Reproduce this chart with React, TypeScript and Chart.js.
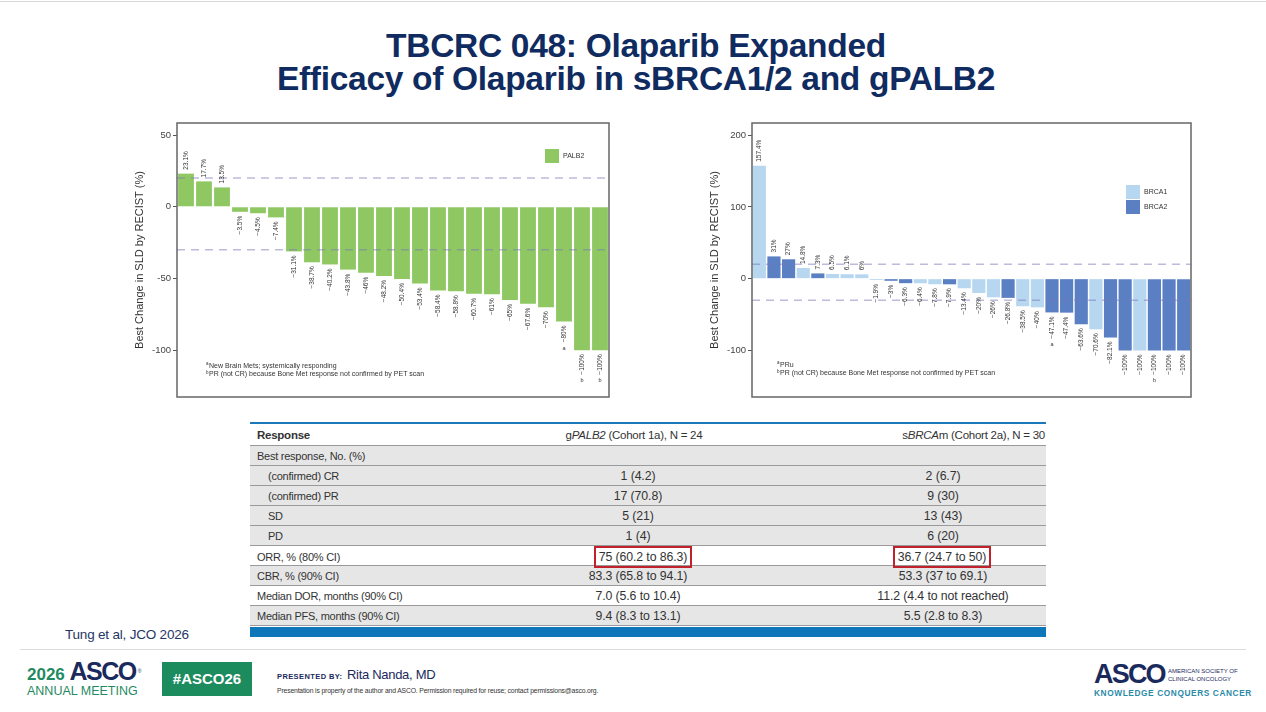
import React, { useEffect, useRef } from "react";
import { Chart, registerables } from "chart.js";

Chart.register(...registerables);

// gPALB2 cohort: best change in SLD (%) per patient
const palb2Values = [
  23.1, 17.7, 13.5, -3.5, -4.5, -7.4, -31.1, -38.7, -40.2, -43.8, -46, -48.2,
  -50.4, -53.4, -58.4, -58.8, -60.7, -61, -65, -67.6, -70, -80, -100, -100,
];
const palb2Marks = ["", "", "", "", "", "", "", "", "", "", "", "", "", "", "", "", "", "", "", "", "", "a", "b", "b"];

// sBRCA cohort: best change in SLD (%) per patient and gene
const brcaValues = [
  157.4, 31, 27, 14.8, 7.3, 6.5, 6.1, 6, -1.9, -3, -6.3, -6.4, -7.8, -7.9, -13.4,
  -20, -26, -26.8, -38.5, -40, -47.1, -47.4, -63.6, -70.6, -82.1, -100, -100,
  -100, -100, -100,
];
const brcaGenes = [
  "BRCA1", "BRCA2", "BRCA2", "BRCA1", "BRCA2", "BRCA1", "BRCA1", "BRCA1", "BRCA1",
  "BRCA2", "BRCA2", "BRCA1", "BRCA1", "BRCA2", "BRCA1", "BRCA1", "BRCA1", "BRCA2",
  "BRCA1", "BRCA1", "BRCA2", "BRCA2", "BRCA2", "BRCA1", "BRCA2", "BRCA2", "BRCA1",
  "BRCA2", "BRCA2", "BRCA2",
];
const brcaMarks = ["", "", "", "", "", "", "", "", "", "", "", "", "", "", "", "", "", "", "", "", "a", "", "", "", "", "", "", "b", "", ""];

const palb2Ticks = [-100, -50, 0, 50];
const brcaTicks = [-100, 0, 100, 200];
const thresholdLines = [20, -30];

const palb2Notes = ["New Brain Mets; systemically responding", "PR (not CR) because Bone Met response not confirmed by PET scan"];
const brcaNotes = ["PRu", "PR (not CR) because Bone Met response not confirmed by PET scan"];

// Table content
const rowLabels = [
  "Best response, No. (%)",
  "(confirmed) CR",
  "(confirmed) PR",
  "SD",
  "PD",
  "ORR, % (80% CI)",
  "CBR, % (90% CI)",
  "Median DOR, months (90% CI)",
  "Median PFS, months (90% CI)",
];
const rowIndent = [false, true, true, true, true, false, false, false, false];
const rowShaded = [true, true, true, true, true, false, true, false, true];
const palb2Column = ["", "1 (4.2)", "17 (70.8)", "5 (21)", "1 (4)", "75 (60.2 to 86.3)", "83.3 (65.8 to 94.1)", "7.0 (5.6 to 10.4)", "9.4 (8.3 to 13.1)"];
const brcaColumn = ["", "2 (6.7)", "9 (30)", "13 (43)", "6 (20)", "36.7 (24.7 to 50)", "53.3 (37 to 69.1)", "11.2 (4.4 to not reached)", "5.5 (2.8 to 8.3)"];
const boxedRow = 5;

const GREEN = "#8fc862";
const BRCA1_COLOR = "#b7d6f0";
const BRCA2_COLOR = "#5b7fc3";
const FONT = "'Liberation Sans', Arial, sans-serif";
const COLS = "270px 236px 89px 196px 5px";

const fmt = (v: number) => (v < 0 ? "\u2212" + Math.abs(v) : String(v)) + "%";

type Legend = { label: string; color: string }[];

function waterfallPlugin(opts: {
  values: number[];
  marks: string[];
  notes: string[];
  noteDx: number;
  noteDy: number;
  legend: Legend;
  legendDx: number;
  legendDy: number;
}) {
  return {
    id: "waterfallDecor",
    afterDatasetsDraw(chart: any) {
      const { ctx, chartArea } = chart;
      const y = chart.scales.y;
      // response thresholds
      ctx.save();
      ctx.strokeStyle = "rgba(120,120,185,0.5)";
      ctx.lineWidth = 1.5;
      ctx.setLineDash([8, 6]);
      thresholdLines.forEach((t) => {
        const py = y.getPixelForValue(t);
        ctx.beginPath();
        ctx.moveTo(chartArea.left, py);
        ctx.lineTo(chartArea.right, py);
        ctx.stroke();
      });
      ctx.restore();

      // rotated value labels
      const xScale = chart.scales.x;
      ctx.save();
      ctx.fillStyle = "#333";
      ctx.font = `6.5px ${FONT}`;
      opts.values.forEach((v, i) => {
        const px = xScale.getPixelForValue(i);
        const py = y.getPixelForValue(v);
        const text = fmt(v);
        const w = ctx.measureText(text).width;
        ctx.save();
        ctx.translate(px, v >= 0 ? py - 4 : py + 4);
        ctx.rotate(-Math.PI / 2);
        ctx.textBaseline = "middle";
        ctx.textAlign = v >= 0 ? "left" : "right";
        ctx.fillText(text, 0, 0);
        ctx.restore();
        const m = opts.marks[i];
        if (m) {
          ctx.save();
          ctx.font = `5.5px ${FONT}`;
          ctx.textAlign = "center";
          ctx.textBaseline = "middle";
          ctx.fillText(m, px, py + 4 + w + 6);
          ctx.restore();
        }
      });
      ctx.restore();
    },
    afterDraw(chart: any) {
      const { ctx, chartArea } = chart;
      ctx.save();
      ctx.strokeStyle = "#666";
      ctx.lineWidth = 1.5;
      ctx.strokeRect(chartArea.left, chartArea.top, chartArea.right - chartArea.left, chartArea.bottom - chartArea.top);

      // legend
      ctx.font = `7px ${FONT}`;
      ctx.textBaseline = "middle";
      ctx.textAlign = "left";
      opts.legend.forEach((item, i) => {
        const lx = chartArea.right - opts.legendDx;
        const ly = chartArea.top + opts.legendDy + i * 15;
        ctx.fillStyle = item.color;
        ctx.fillRect(lx, ly, 14, 14);
        ctx.fillStyle = "#333";
        ctx.fillText(item.label, lx + 18, ly + 7);
      });

      // footnotes
      opts.notes.forEach((n, i) => {
        const nx = chartArea.left + opts.noteDx;
        const ny = chartArea.bottom - opts.noteDy + i * 8.5;
        ctx.fillStyle = "#333";
        ctx.font = `4.5px ${FONT}`;
        ctx.fillText(i === 0 ? "a" : "b", nx, ny - 2);
        ctx.font = `7px ${FONT}`;
        ctx.fillText(n, nx + 3, ny);
      });
      ctx.restore();
    },
  };
}

function makeOptions(min: number, max: number, ticks: number[], padRight: number) {
  return {
    responsive: false,
    animation: false as const,
    layout: { padding: { left: 8, right: padRight, top: 8, bottom: 8 } },
    plugins: { legend: { display: false }, tooltip: { enabled: false } },
    scales: {
      x: { display: false, offset: true, stacked: false },
      y: {
        min,
        max,
        afterBuildTicks: (s: any) => {
          s.ticks = ticks.map((v) => ({ value: v }));
        },
        afterFit: (s: any) => {
          s.width = 44;
        },
        border: { display: false },
        grid: { drawOnChartArea: false, drawTicks: true, tickLength: 4, color: "#555" },
        ticks: { font: { size: 9.5, family: FONT }, color: "#444", padding: 2 },
        title: {
          display: true,
          text: "Best Change in SLD by RECIST (%)",
          font: { size: 11, family: FONT },
          color: "#333",
          padding: { top: 0, bottom: 2 },
        },
      },
    },
  };
}

export default function App() {
  const leftRef = useRef<HTMLCanvasElement>(null);
  const rightRef = useRef<HTMLCanvasElement>(null);

  useEffect(() => {
    const labelsL = palb2Values.map((_, i) => String(i + 1));
    const left = new Chart(leftRef.current!, {
      type: "bar",
      data: {
        labels: labelsL,
        datasets: [
          {
            label: "PALB2",
            data: palb2Values,
            backgroundColor: GREEN,
            barPercentage: 0.88,
            categoryPercentage: 1,
          },
        ],
      },
      options: makeOptions(-132.6, 58.4, palb2Ticks, 6) as any,
      plugins: [
        waterfallPlugin({
          values: palb2Values,
          marks: palb2Marks,
          notes: palb2Notes,
          noteDx: 29,
          noteDy: 31,
          legend: [{ label: "PALB2", color: GREEN }],
          legendDx: 64,
          legendDy: 26,
        }),
      ],
    });

    const labelsR = brcaValues.map((_, i) => String(i + 1));
    const genes = ["BRCA1", "BRCA2"];
    const colors: Record<string, string> = { BRCA1: BRCA1_COLOR, BRCA2: BRCA2_COLOR };
    const right = new Chart(rightRef.current!, {
      type: "bar",
      data: {
        labels: labelsR,
        datasets: genes.map((g) => ({
          label: g,
          data: brcaValues.map((v, i) => (brcaGenes[i] === g ? v : null)),
          backgroundColor: colors[g],
          barPercentage: 0.9,
          categoryPercentage: 1,
          grouped: false,
        })),
      },
      options: makeOptions(-165, 217, brcaTicks, 5) as any,
      plugins: [
        waterfallPlugin({
          values: brcaValues,
          marks: brcaMarks,
          notes: brcaNotes,
          noteDx: 25,
          noteDy: 32,
          legend: genes.map((g) => ({ label: g, color: colors[g] })),
          legendDx: 65,
          legendDy: 62,
        }),
      ],
    });
    return () => {
      left.destroy();
      right.destroy();
    };
  }, []);

  const navy = "#0f2b5f";
  const abs = (s: React.CSSProperties): React.CSSProperties => ({ position: "absolute", ...s });
  const boxed = (dx: number): React.CSSProperties => ({
    display: "inline-block",
    position: "relative",
    left: dx,
    border: "2px solid #c0212a",
    padding: "0 3px",
    lineHeight: "18px",
  });

  return (
    <div style={{ position: "absolute", left: 0, top: 0, width: 1266, height: 712, background: "#fff", overflow: "hidden", fontFamily: FONT }}>
      <div style={abs({ left: 0, top: 1, width: 1266, height: 1, background: "#d8d8d8" })} />
      <div
        style={abs({
          left: 0,
          top: 29,
          width: 1272,
          textAlign: "center",
          color: navy,
          fontWeight: "bold",
          fontSize: 33.5,
          lineHeight: "33px",
          letterSpacing: -0.3,
        })}
      >
        <div>TBCRC 048: Olaparib Expanded</div>
        <div>Efficacy of Olaparib in sBRCA1/2 and gPALB2</div>
      </div>

      <canvas ref={leftRef} width={490} height={290} style={abs({ left: 125, top: 115, width: 490, height: 290 })} />
      <canvas ref={rightRef} width={496} height={290} style={abs({ left: 700, top: 115, width: 496, height: 290 })} />

      {/* results table */}
      <div style={abs({ left: 250, top: 422, width: 796, fontSize: 11, letterSpacing: -0.25, color: "#333" })}>
        <div style={{ height: 2, background: "#1a78bb" }} />
        <div style={{ display: "grid", gridTemplateColumns: "270px 236px 290px", height: 21, alignItems: "center", borderBottom: "1px solid #999", fontSize: 11.5 }}>
          <div style={{ paddingLeft: 7, fontWeight: "bold", color: "#333" }}>Response</div>
          <div style={{ textAlign: "center", paddingRight: 8, whiteSpace: "nowrap" }}>
            g<i>PALB2</i> (Cohort 1a), N = 24
          </div>
          <div style={{ textAlign: "right", whiteSpace: "nowrap", paddingRight: 1 }}>
            s<i>BRCA</i>m (Cohort 2a), N = 30
          </div>
        </div>
        {rowLabels.map((label, i) => (
          <div
            key={label}
            style={{
              display: "grid",
              gridTemplateColumns: COLS,
              height: 19,
              alignItems: "center",
              background: rowShaded[i] ? "#e6e6e6" : "#fff",
              borderBottom: "1px solid #9a9a9a",
            }}
          >
            <div style={{ paddingLeft: rowIndent[i] ? 18 : 7 }}>{label}</div>
            <div style={{ textAlign: "center", fontSize: 12.3, letterSpacing: -0.1, whiteSpace: "nowrap" }}>
              <span style={i === boxedRow ? boxed(5) : {}}>{palb2Column[i]}</span>
            </div>
            <div />
            <div style={{ textAlign: "center", fontSize: 12.3, letterSpacing: -0.1, whiteSpace: "nowrap" }}>
              <span style={i === boxedRow ? boxed(-1) : {}}>{brcaColumn[i]}</span>
            </div>
            <div />
          </div>
        ))}
        <div style={{ height: 10, background: "#0d77b9", marginTop: 1 }} />
      </div>

      {/* footer */}
      <div style={abs({ left: 65, top: 627, fontSize: 13.5, letterSpacing: -0.2, color: "#1f3764" })}>Tung et al, JCO 2026</div>
      <div style={abs({ left: 20, top: 649, width: 1226, height: 1, background: "#dcdcdc" })} />
      <div style={abs({ left: 27, top: 658, whiteSpace: "nowrap", lineHeight: "26px" })}>
        <span style={{ color: "#1f8a62", fontSize: 17, fontWeight: "bold" }}>2026 </span>
        <span style={{ color: "#1b2a5c", fontSize: 25, fontWeight: "bold", letterSpacing: -1.5 }}>ASCO</span>
        <span style={{ color: "#1b2a5c", fontSize: 5, verticalAlign: "top", marginLeft: 2 }}>®</span>
      </div>
      <div style={abs({ left: 27, top: 684, color: "#1f8a62", fontSize: 12.5, lineHeight: "14px", letterSpacing: 0 })}>ANNUAL MEETING</div>
      <div
        style={abs({
          left: 162,
          top: 662,
          width: 90,
          height: 34,
          background: "#1c8b5e",
          color: "#fff",
          fontWeight: "bold",
          fontSize: 15,
          lineHeight: "34px",
          textAlign: "center",
        })}
      >
        #ASCO26
      </div>
      <div style={abs({ left: 277, top: 665, whiteSpace: "nowrap", color: "#1b2a5c" })}>
        <span style={{ fontSize: 7.5, fontWeight: "bold", letterSpacing: 0.4 }}>PRESENTED BY: </span>
        <span style={{ fontSize: 13, marginLeft: 2, letterSpacing: -0.3 }}>Rita Nanda, MD</span>
      </div>
      <div style={abs({ left: 277, top: 687, fontSize: 6.8, color: "#333", letterSpacing: -0.15, whiteSpace: "nowrap" })}>
        Presentation is property of the author and ASCO. Permission required for reuse; contact permissions@asco.org.
      </div>
      <div style={abs({ left: 1094, top: 659, color: "#1b2a5c", fontSize: 27, lineHeight: "30px", fontWeight: "bold", letterSpacing: -1.8 })}>ASCO</div>
      <div style={abs({ left: 1168, top: 667, color: "#1b2a5c", fontSize: 6, lineHeight: "8px", whiteSpace: "nowrap" })}>
        AMERICAN SOCIETY OF
        <br />
        CLINICAL ONCOLOGY
      </div>
      <div style={abs({ left: 1094, top: 688, color: "#2a8aa8", fontSize: 8.3, fontWeight: "bold", letterSpacing: 0.6, whiteSpace: "nowrap" })}>
        KNOWLEDGE CONQUERS CANCER
      </div>
    </div>
  );
}
